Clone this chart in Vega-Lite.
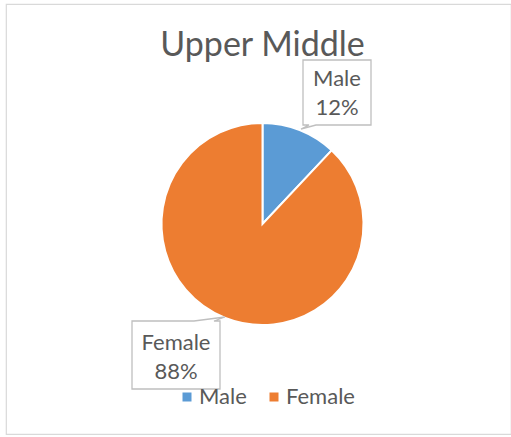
{
  "$schema": "https://vega.github.io/schema/vega-lite/v6.json",
  "width": 505,
  "height": 430,
  "autosize": {"type": "none"},
  "padding": {"left": 6, "top": 4, "right": 0, "bottom": 3},
  "background": "white",
  "view": {"stroke": "#d9d9d9", "strokeWidth": 1.2, "fill": "white"},
  "title": {
    "text": "Upper Middle",
    "anchor": "middle",
    "frame": "group",
    "orient": "top",
    "offset": -86,
    "baseline": "alphabetic",
    "dx": 4,
    "font": "Lato",
    "fontSize": 34,
    "fontWeight": "normal",
    "color": "#595959"
  },
  "config": {
    "view": {"stroke": "#d9d9d9", "strokeWidth": 1.2},
    "font": "Lato"
  },
  "data": {
    "values": [
      {"sex": "Male", "pct": 12, "label": "Male\n12%"},
      {"sex": "Female", "pct": 88, "label": "Female\n88%"}
    ]
  },
  "layer": [
    {
      "mark": {"type": "arc", "outerRadius": 101, "stroke": "white", "strokeWidth": 2, "xOffset": 4, "yOffset": 5},
      "encoding": {
        "theta": {"field": "pct", "type": "quantitative", "stack": true},
        "order": {"field": "pct", "sort": "ascending"},
        "color": {
          "field": "sex",
          "type": "nominal",
          "scale": {"domain": ["Male", "Female"], "range": ["#5B9BD5", "#ED7D31"]},
          "legend": {
            "title": null,
            "orient": "none",
            "direction": "horizontal",
            "legendX": 170,
            "legendY": 382,
            "symbolType": "square",
            "symbolSize": 81,
            "symbolStrokeWidth": 0,
            "labelFont": "Lato",
            "labelFontSize": 22,
            "labelColor": "#595959",
            "labelOffset": 1,
            "columnPadding": 16,
            "padding": 0
          }
        }
      }
    },
    {
      "transform": [{"filter": "datum.sex === 'Male'"}],
      "mark": {
        "type": "point",
        "shape": "M-0.68,-0.65H0.68V0.65H-0.42L-0.72,0.73L-0.56,0.65H-0.68Z",
        "size": 10000,
        "filled": true,
        "fill": "white",
        "fillOpacity": 1,
        "stroke": "#bfbfbf",
        "strokeWidth": 1.3,
        "opacity": 1,
        "xOffset": 78.5,
        "yOffset": -126.5
      },
      "encoding": {}
    },
    {
      "transform": [{"filter": "datum.sex === 'Male'"}],
      "mark": {
        "type": "text",
        "lineBreak": "\n",
        "lineHeight": 29,
        "align": "center",
        "baseline": "middle",
        "font": "Lato",
        "fontSize": 22,
        "color": "#595959",
        "dx": 78.5,
        "dy": -140
      },
      "encoding": {"text": {"field": "label", "type": "nominal"}}
    },
    {
      "transform": [{"filter": "datum.sex === 'Female'"}],
      "mark": {
        "type": "point",
        "shape": "M-0.88,-0.68H0.36L0.98,-0.76L0.76,-0.68H0.88V0.68H-0.88Z",
        "size": 10000,
        "filled": true,
        "fill": "white",
        "fillOpacity": 1,
        "stroke": "#bfbfbf",
        "strokeWidth": 1.3,
        "opacity": 1,
        "xOffset": -82.5,
        "yOffset": 136
      },
      "encoding": {}
    },
    {
      "transform": [{"filter": "datum.sex === 'Female'"}],
      "mark": {
        "type": "text",
        "lineBreak": "\n",
        "lineHeight": 29,
        "align": "center",
        "baseline": "middle",
        "font": "Lato",
        "fontSize": 22,
        "color": "#595959",
        "dx": -82.5,
        "dy": 124
      },
      "encoding": {"text": {"field": "label", "type": "nominal"}}
    }
  ]
}
